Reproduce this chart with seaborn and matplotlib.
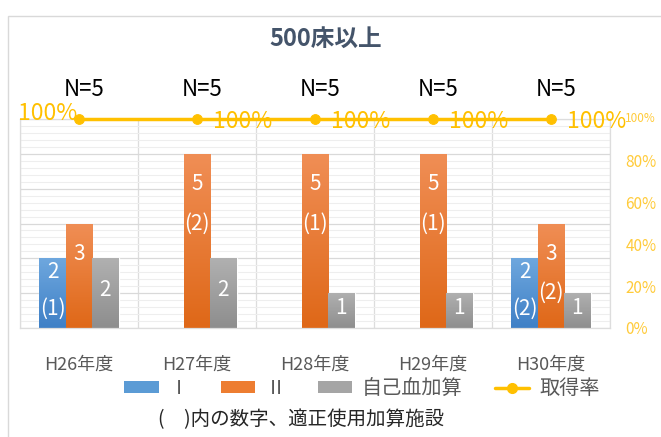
import numpy as np
import pandas as pd
import matplotlib
matplotlib.use("Agg")
import matplotlib.pyplot as plt
import seaborn as sns
from matplotlib.colors import LinearSegmentedColormap
from matplotlib.patches import Rectangle, Patch
from matplotlib.lines import Line2D
from matplotlib.ticker import MultipleLocator, FixedLocator, PercentFormatter

# ---- data ----
years = ["H26年度", "H27年度", "H28年度", "H29年度", "H30年度"]
series_names = ["Ⅰ", "Ⅱ", "自己血加算"]
type1 = [2, 0, 0, 0, 2]
type2 = [3, 5, 5, 5, 3]
autologous = [2, 2, 1, 1, 1]
type1_proper = [1, 0, 0, 0, 2]
type2_proper = [0, 2, 1, 1, 2]
rate_name = "取得率"
acquisition_rate = [100, 100, 100, 100, 100]
n_facilities = [5, 5, 5, 5, 5]
rate_ticks = [0, 20, 40, 60, 80, 100]
title = "500床以上"
note = "(　)内の数字、適正使用加算施設"

# ---- style ----
sns.set_theme(style="white")
plt.rcParams["font.family"] = ["Noto Sans CJK JP", "DejaVu Sans"]

base_colors = ["#5B9BD5", "#ED7D31", "#A5A5A5"]
gradients = [("#3F80C6", "#6EA7DE"), ("#DF6818", "#F08E55"), ("#8E8E8E", "#B0B0B0")]
line_color = "#FFC000"
tick_color = "#FFCB3A"

W, H = 661, 437
fig = plt.figure(figsize=(W / 100, H / 100), dpi=100)


def fx(px):
    return px / W


def fy(py):
    return 1 - py / H


ax = fig.add_axes([fx(20), fy(328), fx(610) - fx(20), fy(119) - fy(328)])

df = pd.DataFrame({
    "年度": years * 3,
    "区分": [s for s in series_names for _ in years],
    "件数": type1 + type2 + autologous,
})

sns.barplot(data=df, x="年度", y="件数", hue="区分", order=years,
            hue_order=series_names, palette=base_colors, width=0.67,
            saturation=1, legend=False, errorbar=None, ax=ax, zorder=2)

# vertical gradient fill on each bar
grad = np.linspace(0, 1, 64).reshape(-1, 1)
for cont, (bot, top) in zip(ax.containers, gradients):
    cmap = LinearSegmentedColormap.from_list("g", [bot, top])
    for bar in cont:
        h = bar.get_height()
        if h <= 0:
            continue
        x0, w = bar.get_x(), bar.get_width()
        im = ax.imshow(grad, extent=[x0, x0 + w, 0, h], origin="lower",
                       aspect="auto", cmap=cmap, interpolation="bilinear",
                       zorder=2.1)
        im.set_clip_path(bar)

ax.set_xlim(-0.5, len(years) - 0.5)
ax.set_ylim(0, 6)

# bar value labels (white, inside the bars)
label_kw = dict(ha="center", va="center", color="white", fontsize=15, zorder=4)
for i in range(len(years)):
    xs = [b.get_x() + b.get_width() / 2 for b in
          (ax.containers[0][i], ax.containers[1][i], ax.containers[2][i])]
    if type1[i] > 0:
        ax.text(xs[0], type1[i] - 0.4, str(type1[i]), **label_kw)
        if type1_proper[i] > 0:
            ax.text(xs[0], type1[i] - 1.45, f"({type1_proper[i]})", **label_kw)
    if type2[i] > 0:
        ax.text(xs[1], type2[i] - 0.87, str(type2[i]), **label_kw)
        if type2_proper[i] > 0:
            ax.text(xs[1], type2[i] - 2.0, f"({type2_proper[i]})", **label_kw)
    if autologous[i] > 0:
        ax.text(xs[2], autologous[i] / 2 + 0.08, str(autologous[i]), **label_kw)

# secondary axis: acquisition rate
ax2 = ax.twinx()
rate = np.array(acquisition_rate) / 100
sns.lineplot(x=np.arange(len(years)), y=rate, ax=ax2, color=line_color,
             lw=2.5, marker="o", markersize=7, markeredgecolor=line_color,
             clip_on=False, zorder=5)
ax2.set_ylim(0, 1)
ax2.set_xlim(-0.5, len(years) - 0.5)
# the top tick label is drawn smaller so it fits beside the plot
ax2.set_yticks([t / 100 for t in rate_ticks[:-1]])
ax2.yaxis.set_major_formatter(PercentFormatter(1.0, decimals=0))
ax2.tick_params(axis="y", which="both", left=False, right=False,
                labelleft=False, labelright=True, length=0, labelsize=11,
                labelcolor=tick_color, pad=11)
ax2.annotate(f"{rate_ticks[-1]}%", (1, rate_ticks[-1] / 100),
             xycoords=("axes fraction", "data"), xytext=(11, 0),
             textcoords="offset points", ha="left", va="center",
             fontsize=8.5, color=tick_color, annotation_clip=False)
ax2.grid(False)
ax2.set_ylabel("")
for sp in ax2.spines.values():
    sp.set_visible(False)

# grid and ticks of the count axis (after twinx, which re-enables left ticks)
ax.set_axisbelow(True)
ax.yaxis.set_major_locator(MultipleLocator(1))
ax.yaxis.set_minor_locator(MultipleLocator(0.2))
ax.xaxis.set_minor_locator(FixedLocator(np.arange(-0.5, len(years), 1)))
ax.grid(which="minor", axis="y", color="#EEEEEE", lw=0.8)
ax.grid(which="major", axis="y", color="#D9D9D9", lw=0.9)
ax.grid(which="minor", axis="x", color="#DDDDDD", lw=0.9)
ax.tick_params(axis="y", which="both", left=False, right=False,
               labelleft=False, labelright=False, length=0)
ax.tick_params(axis="x", which="both", bottom=False, length=0, labelsize=13,
               labelcolor="#595959", pad=20)
ax.set_xlabel("")
ax.set_ylabel("")
for sp in ax.spines.values():
    sp.set_color("#DDDDDD")
    sp.set_linewidth(0.9)

for i, v in enumerate(acquisition_rate):
    if i == 0:
        ax2.annotate(f"{v}%", (i, v / 100), xytext=(-1, 4),
                     textcoords="offset points", ha="right", va="center",
                     fontsize=16.5, color=line_color, annotation_clip=False)
    else:
        ax2.annotate(f"{v}%", (i, v / 100), xytext=(11.5, -1.8),
                     textcoords="offset points", ha="left", va="center",
                     fontsize=16.5, color=line_color, annotation_clip=False)
    ax2.annotate(f"N={n_facilities[i]}", (i, v / 100), xytext=(4, 21),
                 textcoords="offset points", ha="center", va="center",
                 fontsize=16, color="black", annotation_clip=False)

# legend
handles = [Patch(facecolor=c, edgecolor="none") for c in base_colors]
handles.append(Line2D([0], [0], color=line_color, lw=2.5, marker="o",
                      markersize=7))
fig.legend(handles, series_names + [rate_name], loc="center",
           bbox_to_anchor=(fx(362), fy(389)), ncol=4, frameon=False,
           fontsize=14.5, labelcolor="#595959", handlelength=1.7,
           handleheight=0.55, handletextpad=0.5, columnspacing=1.6)

fig.text(fx(301), fy(420), note, ha="center", va="center", fontsize=14,
         color="#262626")
fig.text(fx(326), fy(39), title, ha="center", va="center", fontsize=17,
         fontweight="bold", color="#44546A")

# chart frame
fig.add_artist(Rectangle((fx(8), -0.1), 1.2, fy(16) + 0.1,
                         transform=fig.transFigure, fill=False,
                         edgecolor="#D9D9D9", lw=1))

fig.savefig("out.png", dpi=100)
